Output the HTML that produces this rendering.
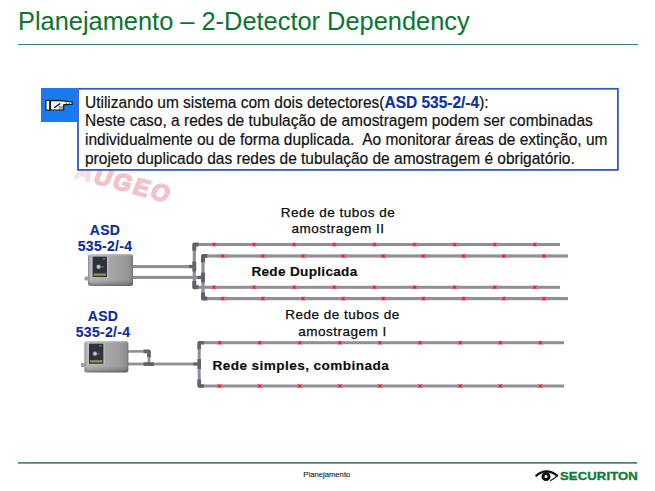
<!DOCTYPE html>
<html><head><meta charset="utf-8">
<style>
html,body{margin:0;padding:0;background:#fff;}
body{width:655px;height:491px;position:relative;overflow:hidden;font-family:"Liberation Sans",sans-serif;}
.abs{position:absolute;white-space:pre;}
#title{left:18px;top:4px;font-size:25.4px;color:#0a7430;line-height:34px;}
#tline{left:18px;top:43.7px;width:620px;height:1.5px;background:#3f7e60;}
#box{left:77.1px;top:87.9px;width:538.1px;height:79.3px;border:1.8px solid #3a58c6;background:#fff;}
#blue{left:41px;top:88px;width:36px;height:34px;background:#1a7af0;}
#txt{left:84.5px;top:92.9px;-webkit-text-stroke:0.2px #111;font-size:16.3px;line-height:18.6px;color:#111;transform-origin:0 0;transform:scaleX(0.951);}
#txt b{color:#1030a0;-webkit-text-stroke:0.2px #1030a0;}
.lbl{font-size:13.5px;color:#0a0a0a;-webkit-text-stroke:0.25px #0a0a0a;line-height:16.6px;text-align:center;letter-spacing:0.5px;}
.asd{font-size:14px;font-weight:bold;color:#0c2c9c;-webkit-text-stroke:0.15px #0c2c9c;line-height:16.8px;text-align:center;letter-spacing:0.3px;}
#fline{left:17.6px;top:461.8px;width:619px;height:2px;background:linear-gradient(#3c7460,#78c0a2);}
#foot{left:303.3px;top:469.8px;font-size:7.7px;color:#111;-webkit-text-stroke:0.1px #111;}
#secu{left:559.8px;top:470.4px;font-size:11px;font-weight:bold;color:#157a3a;transform-origin:0 0;transform:scaleX(1.19);-webkit-text-stroke:0.35px #157a3a;letter-spacing:0.1px;}
</style></head><body>
<svg class="abs" style="left:0;top:0" width="655" height="491" viewBox="0 0 655 491">
 <g transform="translate(73.5 177.5) rotate(15) skewX(-7)" fill="#f2c2ca" stroke="#f2c2ca" stroke-width="1.6" stroke-linejoin="round" font-family="Liberation Sans" font-weight="bold" font-size="23.5">
  <text x="0" y="0" letter-spacing="2.5"><tspan fill="#f8dfe3" stroke="#f8dfe3">A</tspan>UGEO</text>
 </g>
</svg>
<div class="abs" id="title">Planejamento – 2-Detector Dependency</div>
<div class="abs" id="tline"></div>
<svg class="abs" style="left:0;top:0" width="655" height="491" viewBox="0 0 655 491"><rect x="78" y="88.8" width="539.9" height="81.1" fill="#fff" stroke="#3a58c6" stroke-width="1.8"/></svg>
<div class="abs" id="blue"></div>
<svg class="abs" style="left:41px;top:88px" width="36" height="34" viewBox="0 0 36 34">
  <rect x="4.9" y="12.4" width="3.9" height="9.7" fill="#fff" stroke="#161616" stroke-width="1.2"/>
  <path d="M9.4 12.7 L17.5 12.3 L22 12.9 L31.2 14 L31 16.4 L22.8 16.6 L22.6 22 L9.4 22 Z" fill="#f4f4f4" stroke="#161616" stroke-width="1.2" stroke-linejoin="round"/>
  <path d="M13.2 19.8 L19.2 15.4" stroke="#161616" stroke-width="1.3"/>
  <path d="M17.5 19 H22.4 M18 21 H22.4" stroke="#333" stroke-width="0.8"/>
  <rect x="24.6" y="14.7" width="1.6" height="0.9" fill="#444"/>
  <rect x="27.8" y="14.9" width="1.3" height="0.9" fill="#444"/>
</svg>
<div class="abs" id="txt">Utilizando um sistema com dois detectores(<b>ASD 535-2/-4</b>):
Neste caso, a redes de tubulação de amostragem podem ser combinadas
individualmente ou de forma duplicada.  Ao monitorar áreas de extinção, um
projeto duplicado das redes de tubulação de amostragem é obrigatório.</div>
<svg class="abs" style="left:0;top:0" width="655" height="491" viewBox="0 0 655 491">
<rect x="193" y="243.00" width="367.00" height="3.0" fill="#8f8f97"/><rect x="202" y="254.40" width="366.00" height="3.2" fill="#8f8f97"/><rect x="193" y="285.80" width="367.00" height="3.0" fill="#8f8f97"/><rect x="202" y="297.00" width="366.00" height="3.2" fill="#8f8f97"/><rect x="192.70" y="244" width="3.2" height="44.00" fill="#8f8f97"/><rect x="201.40" y="255" width="3.2" height="44.50" fill="#8f8f97"/><rect x="132" y="265.05" width="62.00" height="3.1" fill="#8f8f97"/><rect x="132" y="275.85" width="71.00" height="3.1" fill="#8f8f97"/><path d="M192.30 250.70V244.50Q192.30 242.50 194.30 242.50H198.50V246.50H196.30V250.70Z" fill="#606168"/><path d="M192.30 281.10V287.30Q192.30 289.30 194.30 289.30H198.50V285.30H196.30V281.10Z" fill="#606168"/><path d="M201.00 262.20V256.00Q201.00 254.00 203.00 254.00H207.20V258.00H205.00V262.20Z" fill="#606168"/><path d="M201.00 292.40V298.60Q201.00 300.60 203.00 300.60H207.20V296.60H205.00V292.40Z" fill="#606168"/><rect x="192.40" y="261.50" width="3.8" height="10" fill="#606168"/><rect x="188.80" y="264.90" width="3.6" height="3.20" fill="#606168"/><rect x="201.10" y="272.50" width="3.8" height="10" fill="#606168"/><rect x="197.50" y="275.90" width="3.6" height="3.20" fill="#606168"/><ellipse cx="214.0" cy="244.5" rx="3.9" ry="2.0" fill="#ec6a80" opacity="0.65"/><path d="M212.3 243.1L215.7 245.9M212.3 245.9L215.7 243.1" stroke="#d42444" stroke-width="0.9"/><ellipse cx="214.0" cy="244.5" rx="0.9" ry="1.1" fill="#c0183a"/><ellipse cx="222.7" cy="256.0" rx="3.9" ry="2.0" fill="#ec6a80" opacity="0.65"/><path d="M221.0 254.6L224.4 257.4M221.0 257.4L224.4 254.6" stroke="#d42444" stroke-width="0.9"/><ellipse cx="222.7" cy="256.0" rx="0.9" ry="1.1" fill="#c0183a"/><ellipse cx="214.0" cy="287.3" rx="3.9" ry="2.0" fill="#ec6a80" opacity="0.65"/><path d="M212.3 285.9L215.7 288.7M212.3 288.7L215.7 285.9" stroke="#d42444" stroke-width="0.9"/><ellipse cx="214.0" cy="287.3" rx="0.9" ry="1.1" fill="#c0183a"/><ellipse cx="222.7" cy="298.6" rx="3.9" ry="2.0" fill="#ec6a80" opacity="0.65"/><path d="M221.0 297.2L224.4 300.0M221.0 300.0L224.4 297.2" stroke="#d42444" stroke-width="0.9"/><ellipse cx="222.7" cy="298.6" rx="0.9" ry="1.1" fill="#c0183a"/><ellipse cx="254.1" cy="244.5" rx="3.9" ry="2.0" fill="#ec6a80" opacity="0.65"/><path d="M252.4 243.1L255.8 245.9M252.4 245.9L255.8 243.1" stroke="#d42444" stroke-width="0.9"/><ellipse cx="254.1" cy="244.5" rx="0.9" ry="1.1" fill="#c0183a"/><ellipse cx="262.8" cy="256.0" rx="3.9" ry="2.0" fill="#ec6a80" opacity="0.65"/><path d="M261.1 254.6L264.5 257.4M261.1 257.4L264.5 254.6" stroke="#d42444" stroke-width="0.9"/><ellipse cx="262.8" cy="256.0" rx="0.9" ry="1.1" fill="#c0183a"/><ellipse cx="254.1" cy="287.3" rx="3.9" ry="2.0" fill="#ec6a80" opacity="0.65"/><path d="M252.4 285.9L255.8 288.7M252.4 288.7L255.8 285.9" stroke="#d42444" stroke-width="0.9"/><ellipse cx="254.1" cy="287.3" rx="0.9" ry="1.1" fill="#c0183a"/><ellipse cx="262.8" cy="298.6" rx="3.9" ry="2.0" fill="#ec6a80" opacity="0.65"/><path d="M261.1 297.2L264.5 300.0M261.1 300.0L264.5 297.2" stroke="#d42444" stroke-width="0.9"/><ellipse cx="262.8" cy="298.6" rx="0.9" ry="1.1" fill="#c0183a"/><ellipse cx="294.2" cy="244.5" rx="3.9" ry="2.0" fill="#ec6a80" opacity="0.65"/><path d="M292.5 243.1L295.9 245.9M292.5 245.9L295.9 243.1" stroke="#d42444" stroke-width="0.9"/><ellipse cx="294.2" cy="244.5" rx="0.9" ry="1.1" fill="#c0183a"/><ellipse cx="303.0" cy="256.0" rx="3.9" ry="2.0" fill="#ec6a80" opacity="0.65"/><path d="M301.3 254.6L304.7 257.4M301.3 257.4L304.7 254.6" stroke="#d42444" stroke-width="0.9"/><ellipse cx="303.0" cy="256.0" rx="0.9" ry="1.1" fill="#c0183a"/><ellipse cx="294.2" cy="287.3" rx="3.9" ry="2.0" fill="#ec6a80" opacity="0.65"/><path d="M292.5 285.9L295.9 288.7M292.5 288.7L295.9 285.9" stroke="#d42444" stroke-width="0.9"/><ellipse cx="294.2" cy="287.3" rx="0.9" ry="1.1" fill="#c0183a"/><ellipse cx="303.0" cy="298.6" rx="3.9" ry="2.0" fill="#ec6a80" opacity="0.65"/><path d="M301.3 297.2L304.7 300.0M301.3 300.0L304.7 297.2" stroke="#d42444" stroke-width="0.9"/><ellipse cx="303.0" cy="298.6" rx="0.9" ry="1.1" fill="#c0183a"/><ellipse cx="334.3" cy="244.5" rx="3.9" ry="2.0" fill="#ec6a80" opacity="0.65"/><path d="M332.6 243.1L336.0 245.9M332.6 245.9L336.0 243.1" stroke="#d42444" stroke-width="0.9"/><ellipse cx="334.3" cy="244.5" rx="0.9" ry="1.1" fill="#c0183a"/><ellipse cx="343.1" cy="256.0" rx="3.9" ry="2.0" fill="#ec6a80" opacity="0.65"/><path d="M341.4 254.6L344.8 257.4M341.4 257.4L344.8 254.6" stroke="#d42444" stroke-width="0.9"/><ellipse cx="343.1" cy="256.0" rx="0.9" ry="1.1" fill="#c0183a"/><ellipse cx="334.3" cy="287.3" rx="3.9" ry="2.0" fill="#ec6a80" opacity="0.65"/><path d="M332.6 285.9L336.0 288.7M332.6 288.7L336.0 285.9" stroke="#d42444" stroke-width="0.9"/><ellipse cx="334.3" cy="287.3" rx="0.9" ry="1.1" fill="#c0183a"/><ellipse cx="343.1" cy="298.6" rx="3.9" ry="2.0" fill="#ec6a80" opacity="0.65"/><path d="M341.4 297.2L344.8 300.0M341.4 300.0L344.8 297.2" stroke="#d42444" stroke-width="0.9"/><ellipse cx="343.1" cy="298.6" rx="0.9" ry="1.1" fill="#c0183a"/><ellipse cx="374.4" cy="244.5" rx="3.9" ry="2.0" fill="#ec6a80" opacity="0.65"/><path d="M372.7 243.1L376.1 245.9M372.7 245.9L376.1 243.1" stroke="#d42444" stroke-width="0.9"/><ellipse cx="374.4" cy="244.5" rx="0.9" ry="1.1" fill="#c0183a"/><ellipse cx="383.3" cy="256.0" rx="3.9" ry="2.0" fill="#ec6a80" opacity="0.65"/><path d="M381.6 254.6L385.0 257.4M381.6 257.4L385.0 254.6" stroke="#d42444" stroke-width="0.9"/><ellipse cx="383.3" cy="256.0" rx="0.9" ry="1.1" fill="#c0183a"/><ellipse cx="374.4" cy="287.3" rx="3.9" ry="2.0" fill="#ec6a80" opacity="0.65"/><path d="M372.7 285.9L376.1 288.7M372.7 288.7L376.1 285.9" stroke="#d42444" stroke-width="0.9"/><ellipse cx="374.4" cy="287.3" rx="0.9" ry="1.1" fill="#c0183a"/><ellipse cx="383.3" cy="298.6" rx="3.9" ry="2.0" fill="#ec6a80" opacity="0.65"/><path d="M381.6 297.2L385.0 300.0M381.6 300.0L385.0 297.2" stroke="#d42444" stroke-width="0.9"/><ellipse cx="383.3" cy="298.6" rx="0.9" ry="1.1" fill="#c0183a"/><ellipse cx="414.5" cy="244.5" rx="3.9" ry="2.0" fill="#ec6a80" opacity="0.65"/><path d="M412.8 243.1L416.2 245.9M412.8 245.9L416.2 243.1" stroke="#d42444" stroke-width="0.9"/><ellipse cx="414.5" cy="244.5" rx="0.9" ry="1.1" fill="#c0183a"/><ellipse cx="423.4" cy="256.0" rx="3.9" ry="2.0" fill="#ec6a80" opacity="0.65"/><path d="M421.8 254.6L425.1 257.4M421.8 257.4L425.1 254.6" stroke="#d42444" stroke-width="0.9"/><ellipse cx="423.4" cy="256.0" rx="0.9" ry="1.1" fill="#c0183a"/><ellipse cx="414.5" cy="287.3" rx="3.9" ry="2.0" fill="#ec6a80" opacity="0.65"/><path d="M412.8 285.9L416.2 288.7M412.8 288.7L416.2 285.9" stroke="#d42444" stroke-width="0.9"/><ellipse cx="414.5" cy="287.3" rx="0.9" ry="1.1" fill="#c0183a"/><ellipse cx="423.4" cy="298.6" rx="3.9" ry="2.0" fill="#ec6a80" opacity="0.65"/><path d="M421.8 297.2L425.1 300.0M421.8 300.0L425.1 297.2" stroke="#d42444" stroke-width="0.9"/><ellipse cx="423.4" cy="298.6" rx="0.9" ry="1.1" fill="#c0183a"/><ellipse cx="454.6" cy="244.5" rx="3.9" ry="2.0" fill="#ec6a80" opacity="0.65"/><path d="M452.9 243.1L456.3 245.9M452.9 245.9L456.3 243.1" stroke="#d42444" stroke-width="0.9"/><ellipse cx="454.6" cy="244.5" rx="0.9" ry="1.1" fill="#c0183a"/><ellipse cx="463.6" cy="256.0" rx="3.9" ry="2.0" fill="#ec6a80" opacity="0.65"/><path d="M461.9 254.6L465.3 257.4M461.9 257.4L465.3 254.6" stroke="#d42444" stroke-width="0.9"/><ellipse cx="463.6" cy="256.0" rx="0.9" ry="1.1" fill="#c0183a"/><ellipse cx="454.6" cy="287.3" rx="3.9" ry="2.0" fill="#ec6a80" opacity="0.65"/><path d="M452.9 285.9L456.3 288.7M452.9 288.7L456.3 285.9" stroke="#d42444" stroke-width="0.9"/><ellipse cx="454.6" cy="287.3" rx="0.9" ry="1.1" fill="#c0183a"/><ellipse cx="463.6" cy="298.6" rx="3.9" ry="2.0" fill="#ec6a80" opacity="0.65"/><path d="M461.9 297.2L465.3 300.0M461.9 300.0L465.3 297.2" stroke="#d42444" stroke-width="0.9"/><ellipse cx="463.6" cy="298.6" rx="0.9" ry="1.1" fill="#c0183a"/><ellipse cx="494.7" cy="244.5" rx="3.9" ry="2.0" fill="#ec6a80" opacity="0.65"/><path d="M493.0 243.1L496.4 245.9M493.0 245.9L496.4 243.1" stroke="#d42444" stroke-width="0.9"/><ellipse cx="494.7" cy="244.5" rx="0.9" ry="1.1" fill="#c0183a"/><ellipse cx="503.8" cy="256.0" rx="3.9" ry="2.0" fill="#ec6a80" opacity="0.65"/><path d="M502.1 254.6L505.4 257.4M502.1 257.4L505.4 254.6" stroke="#d42444" stroke-width="0.9"/><ellipse cx="503.8" cy="256.0" rx="0.9" ry="1.1" fill="#c0183a"/><ellipse cx="494.7" cy="287.3" rx="3.9" ry="2.0" fill="#ec6a80" opacity="0.65"/><path d="M493.0 285.9L496.4 288.7M493.0 288.7L496.4 285.9" stroke="#d42444" stroke-width="0.9"/><ellipse cx="494.7" cy="287.3" rx="0.9" ry="1.1" fill="#c0183a"/><ellipse cx="503.8" cy="298.6" rx="3.9" ry="2.0" fill="#ec6a80" opacity="0.65"/><path d="M502.1 297.2L505.4 300.0M502.1 300.0L505.4 297.2" stroke="#d42444" stroke-width="0.9"/><ellipse cx="503.8" cy="298.6" rx="0.9" ry="1.1" fill="#c0183a"/><ellipse cx="534.8" cy="244.5" rx="3.9" ry="2.0" fill="#ec6a80" opacity="0.65"/><path d="M533.1 243.1L536.5 245.9M533.1 245.9L536.5 243.1" stroke="#d42444" stroke-width="0.9"/><ellipse cx="534.8" cy="244.5" rx="0.9" ry="1.1" fill="#c0183a"/><ellipse cx="543.9" cy="256.0" rx="3.9" ry="2.0" fill="#ec6a80" opacity="0.65"/><path d="M542.2 254.6L545.6 257.4M542.2 257.4L545.6 254.6" stroke="#d42444" stroke-width="0.9"/><ellipse cx="543.9" cy="256.0" rx="0.9" ry="1.1" fill="#c0183a"/><ellipse cx="534.8" cy="287.3" rx="3.9" ry="2.0" fill="#ec6a80" opacity="0.65"/><path d="M533.1 285.9L536.5 288.7M533.1 288.7L536.5 285.9" stroke="#d42444" stroke-width="0.9"/><ellipse cx="534.8" cy="287.3" rx="0.9" ry="1.1" fill="#c0183a"/><ellipse cx="543.9" cy="298.6" rx="3.9" ry="2.0" fill="#ec6a80" opacity="0.65"/><path d="M542.2 297.2L545.6 300.0M542.2 300.0L545.6 297.2" stroke="#d42444" stroke-width="0.9"/><ellipse cx="543.9" cy="298.6" rx="0.9" ry="1.1" fill="#c0183a"/><rect x="199" y="341.20" width="365.00" height="3.0" fill="#8f8f97"/><rect x="199" y="384.50" width="365.00" height="3.0" fill="#8f8f97"/><rect x="197.70" y="342" width="3.0" height="45.00" fill="#8f8f97"/><rect x="128" y="350.10" width="21.00" height="2.6" fill="#8f8f97"/><rect x="147.60" y="351" width="2.8" height="13.00" fill="#8f8f97"/><rect x="128" y="362.60" width="71.00" height="2.8" fill="#8f8f97"/><path d="M197.40 349.20V342.90Q197.40 340.90 199.40 340.90H203.90V344.50H201.00V349.20Z" fill="#606168"/><path d="M197.40 379.50V385.80Q197.40 387.80 199.40 387.80H203.90V384.20H201.00V379.50Z" fill="#606168"/><rect x="197.40" y="359.00" width="3.6" height="10" fill="#606168"/><rect x="193.40" y="362.50" width="4" height="3.00" fill="#606168"/><path d="M143.5 349.6H148.8Q150.8 349.6 150.8 351.6V357H147.2V353.2H143.5Z" fill="#606168"/><rect x="143.5" y="362.3" width="10.5" height="3.6" fill="#606168"/><ellipse cx="219.6" cy="342.7" rx="3.9" ry="2.0" fill="#ec6a80" opacity="0.65"/><path d="M217.9 341.3L221.3 344.1M217.9 344.1L221.3 341.3" stroke="#d42444" stroke-width="0.9"/><ellipse cx="219.6" cy="342.7" rx="0.9" ry="1.1" fill="#c0183a"/><ellipse cx="219.6" cy="386.0" rx="3.9" ry="2.0" fill="#ec6a80" opacity="0.65"/><path d="M217.9 384.6L221.3 387.4M217.9 387.4L221.3 384.6" stroke="#d42444" stroke-width="0.9"/><ellipse cx="219.6" cy="386.0" rx="0.9" ry="1.1" fill="#c0183a"/><ellipse cx="259.7" cy="342.7" rx="3.9" ry="2.0" fill="#ec6a80" opacity="0.65"/><path d="M258.0 341.3L261.4 344.1M258.0 344.1L261.4 341.3" stroke="#d42444" stroke-width="0.9"/><ellipse cx="259.7" cy="342.7" rx="0.9" ry="1.1" fill="#c0183a"/><ellipse cx="259.7" cy="386.0" rx="3.9" ry="2.0" fill="#ec6a80" opacity="0.65"/><path d="M258.0 384.6L261.4 387.4M258.0 387.4L261.4 384.6" stroke="#d42444" stroke-width="0.9"/><ellipse cx="259.7" cy="386.0" rx="0.9" ry="1.1" fill="#c0183a"/><ellipse cx="299.8" cy="342.7" rx="3.9" ry="2.0" fill="#ec6a80" opacity="0.65"/><path d="M298.1 341.3L301.5 344.1M298.1 344.1L301.5 341.3" stroke="#d42444" stroke-width="0.9"/><ellipse cx="299.8" cy="342.7" rx="0.9" ry="1.1" fill="#c0183a"/><ellipse cx="299.8" cy="386.0" rx="3.9" ry="2.0" fill="#ec6a80" opacity="0.65"/><path d="M298.1 384.6L301.5 387.4M298.1 387.4L301.5 384.6" stroke="#d42444" stroke-width="0.9"/><ellipse cx="299.8" cy="386.0" rx="0.9" ry="1.1" fill="#c0183a"/><ellipse cx="339.9" cy="342.7" rx="3.9" ry="2.0" fill="#ec6a80" opacity="0.65"/><path d="M338.2 341.3L341.6 344.1M338.2 344.1L341.6 341.3" stroke="#d42444" stroke-width="0.9"/><ellipse cx="339.9" cy="342.7" rx="0.9" ry="1.1" fill="#c0183a"/><ellipse cx="339.9" cy="386.0" rx="3.9" ry="2.0" fill="#ec6a80" opacity="0.65"/><path d="M338.2 384.6L341.6 387.4M338.2 387.4L341.6 384.6" stroke="#d42444" stroke-width="0.9"/><ellipse cx="339.9" cy="386.0" rx="0.9" ry="1.1" fill="#c0183a"/><ellipse cx="380.0" cy="342.7" rx="3.9" ry="2.0" fill="#ec6a80" opacity="0.65"/><path d="M378.3 341.3L381.7 344.1M378.3 344.1L381.7 341.3" stroke="#d42444" stroke-width="0.9"/><ellipse cx="380.0" cy="342.7" rx="0.9" ry="1.1" fill="#c0183a"/><ellipse cx="380.0" cy="386.0" rx="3.9" ry="2.0" fill="#ec6a80" opacity="0.65"/><path d="M378.3 384.6L381.7 387.4M378.3 387.4L381.7 384.6" stroke="#d42444" stroke-width="0.9"/><ellipse cx="380.0" cy="386.0" rx="0.9" ry="1.1" fill="#c0183a"/><ellipse cx="420.1" cy="342.7" rx="3.9" ry="2.0" fill="#ec6a80" opacity="0.65"/><path d="M418.4 341.3L421.8 344.1M418.4 344.1L421.8 341.3" stroke="#d42444" stroke-width="0.9"/><ellipse cx="420.1" cy="342.7" rx="0.9" ry="1.1" fill="#c0183a"/><ellipse cx="420.1" cy="386.0" rx="3.9" ry="2.0" fill="#ec6a80" opacity="0.65"/><path d="M418.4 384.6L421.8 387.4M418.4 387.4L421.8 384.6" stroke="#d42444" stroke-width="0.9"/><ellipse cx="420.1" cy="386.0" rx="0.9" ry="1.1" fill="#c0183a"/><ellipse cx="460.2" cy="342.7" rx="3.9" ry="2.0" fill="#ec6a80" opacity="0.65"/><path d="M458.5 341.3L461.9 344.1M458.5 344.1L461.9 341.3" stroke="#d42444" stroke-width="0.9"/><ellipse cx="460.2" cy="342.7" rx="0.9" ry="1.1" fill="#c0183a"/><ellipse cx="460.2" cy="386.0" rx="3.9" ry="2.0" fill="#ec6a80" opacity="0.65"/><path d="M458.5 384.6L461.9 387.4M458.5 387.4L461.9 384.6" stroke="#d42444" stroke-width="0.9"/><ellipse cx="460.2" cy="386.0" rx="0.9" ry="1.1" fill="#c0183a"/><ellipse cx="500.3" cy="342.7" rx="3.9" ry="2.0" fill="#ec6a80" opacity="0.65"/><path d="M498.6 341.3L502.0 344.1M498.6 344.1L502.0 341.3" stroke="#d42444" stroke-width="0.9"/><ellipse cx="500.3" cy="342.7" rx="0.9" ry="1.1" fill="#c0183a"/><ellipse cx="500.3" cy="386.0" rx="3.9" ry="2.0" fill="#ec6a80" opacity="0.65"/><path d="M498.6 384.6L502.0 387.4M498.6 387.4L502.0 384.6" stroke="#d42444" stroke-width="0.9"/><ellipse cx="500.3" cy="386.0" rx="0.9" ry="1.1" fill="#c0183a"/><ellipse cx="540.4" cy="342.7" rx="3.9" ry="2.0" fill="#ec6a80" opacity="0.65"/><path d="M538.7 341.3L542.1 344.1M538.7 344.1L542.1 341.3" stroke="#d42444" stroke-width="0.9"/><ellipse cx="540.4" cy="342.7" rx="0.9" ry="1.1" fill="#c0183a"/><ellipse cx="540.4" cy="386.0" rx="3.9" ry="2.0" fill="#ec6a80" opacity="0.65"/><path d="M538.7 384.6L542.1 387.4M538.7 387.4L542.1 384.6" stroke="#d42444" stroke-width="0.9"/><ellipse cx="540.4" cy="386.0" rx="0.9" ry="1.1" fill="#c0183a"/>

<g>
 <defs>
  <linearGradient id="mg1" x1="0" x2="1" y1="0" y2="0">
   <stop offset="0" stop-color="#8a8a8c"/><stop offset="0.05" stop-color="#b6b6b8"/>
   <stop offset="0.4" stop-color="#aaaaac"/><stop offset="0.8" stop-color="#9c9c9e"/><stop offset="0.95" stop-color="#8e8e90"/><stop offset="1" stop-color="#6e6e70"/>
  </linearGradient>
  <linearGradient id="vg1" x1="0" x2="0" y1="0" y2="1">
   <stop offset="0" stop-color="#fff" stop-opacity="0.3"/><stop offset="0.08" stop-color="#fff" stop-opacity="0"/>
   <stop offset="0.8" stop-color="#000" stop-opacity="0"/><stop offset="0.9" stop-color="#000" stop-opacity="0.12"/><stop offset="1" stop-color="#000" stop-opacity="0.35"/>
  </linearGradient>
  <radialGradient id="cg1"><stop offset="0" stop-color="#e0e4e8"/><stop offset="0.5" stop-color="#a8acb4"/><stop offset="1" stop-color="#30343c" stop-opacity="0"/></radialGradient>
 </defs>
 <rect x="84.5" y="276.4" width="4" height="4" rx="1" fill="#a0a0a2"/>
 <rect x="88" y="254" width="45" height="32" rx="3.2" ry="2.5" fill="url(#mg1)"/>
 <rect x="88" y="254" width="45" height="32" rx="3.2" ry="2.5" fill="url(#vg1)"/>
 <rect x="91.4" y="256.0" width="16.8" height="21.7" fill="#c2c2c4"/>
 <rect x="92.6" y="256.6" width="14.4" height="20.5" fill="#2e333b"/>
 <circle cx="98.6" cy="266.8" r="3.2" fill="url(#cg1)"/>
 <rect x="101.5" y="266.4" width="2.2" height="1" fill="#7c8088"/>
 <rect x="102.4" y="258.4" width="3" height="1" fill="#80848c"/>
 <rect x="93.6" y="273.5" width="12.4" height="2.2" fill="#94964e"/>
</g>

<g>
 <defs>
  <linearGradient id="mg2" x1="0" x2="1" y1="0" y2="0">
   <stop offset="0" stop-color="#8a8a8c"/><stop offset="0.05" stop-color="#b6b6b8"/>
   <stop offset="0.4" stop-color="#aaaaac"/><stop offset="0.8" stop-color="#9c9c9e"/><stop offset="0.95" stop-color="#8e8e90"/><stop offset="1" stop-color="#6e6e70"/>
  </linearGradient>
  <linearGradient id="vg2" x1="0" x2="0" y1="0" y2="1">
   <stop offset="0" stop-color="#fff" stop-opacity="0.3"/><stop offset="0.08" stop-color="#fff" stop-opacity="0"/>
   <stop offset="0.8" stop-color="#000" stop-opacity="0"/><stop offset="0.9" stop-color="#000" stop-opacity="0.12"/><stop offset="1" stop-color="#000" stop-opacity="0.35"/>
  </linearGradient>
  <radialGradient id="cg2"><stop offset="0" stop-color="#e0e4e8"/><stop offset="0.5" stop-color="#a8acb4"/><stop offset="1" stop-color="#30343c" stop-opacity="0"/></radialGradient>
 </defs>
 <rect x="80.9" y="363.1" width="4" height="4" rx="1" fill="#a0a0a2"/>
 <rect x="84.4" y="341" width="44" height="31.6" rx="3.2" ry="2.5" fill="url(#mg2)"/>
 <rect x="84.4" y="341" width="44" height="31.6" rx="3.2" ry="2.5" fill="url(#vg2)"/>
 <rect x="87.8" y="343.0" width="16.8" height="21.4" fill="#c2c2c4"/>
 <rect x="89.0" y="343.6" width="14.4" height="20.2" fill="#2e333b"/>
 <circle cx="95.0" cy="353.7" r="3.2" fill="url(#cg2)"/>
 <rect x="97.9" y="353.3" width="2.2" height="1" fill="#7c8088"/>
 <rect x="98.8" y="345.4" width="3" height="1" fill="#80848c"/>
 <rect x="90.0" y="360.2" width="12.4" height="2.2" fill="#94964e"/>
</g>
</svg>
<div class="abs asd" style="left:70px;top:221.5px;width:70px">ASD
535-2/-4</div>
<div class="abs asd" style="left:68px;top:307.5px;width:70px">ASD
535-2/-4</div>
<div class="abs lbl" style="left:278px;top:204.6px;width:120px">Rede de tubos de
amostragem II</div>
<div class="abs lbl" style="left:282.5px;top:307px;width:120px">Rede de tubos de
amostragem I</div>
<div class="abs lbl" style="left:251.4px;top:263.9px;font-weight:bold;font-size:13.6px;letter-spacing:0.3px;-webkit-text-stroke:0.15px #111;text-align:left">Rede Duplicada</div>
<div class="abs lbl" style="left:212.5px;top:357.6px;font-weight:bold;font-size:13.6px;letter-spacing:0.42px;-webkit-text-stroke:0.15px #111;text-align:left">Rede simples, combinada</div>
<div class="abs" id="fline"></div>
<div class="abs" id="foot">Planejamento</div>
<svg class="abs" style="left:530px;top:465px" width="35" height="22" viewBox="0 0 35 22">
 <path d="M6.3 10.6 Q16 2.2 27.2 10.6" fill="none" stroke="#111" stroke-width="2.3" stroke-linecap="round"/>
 <path d="M27.2 10.6 Q24.5 13.8 20.2 15.8" fill="none" stroke="#111" stroke-width="1.2"/>
 <circle cx="16" cy="11.5" r="3.0" fill="#fff" stroke="#111" stroke-width="3.0"/>
</svg>
<div class="abs" id="secu">SECURITON</div>
</body></html>
